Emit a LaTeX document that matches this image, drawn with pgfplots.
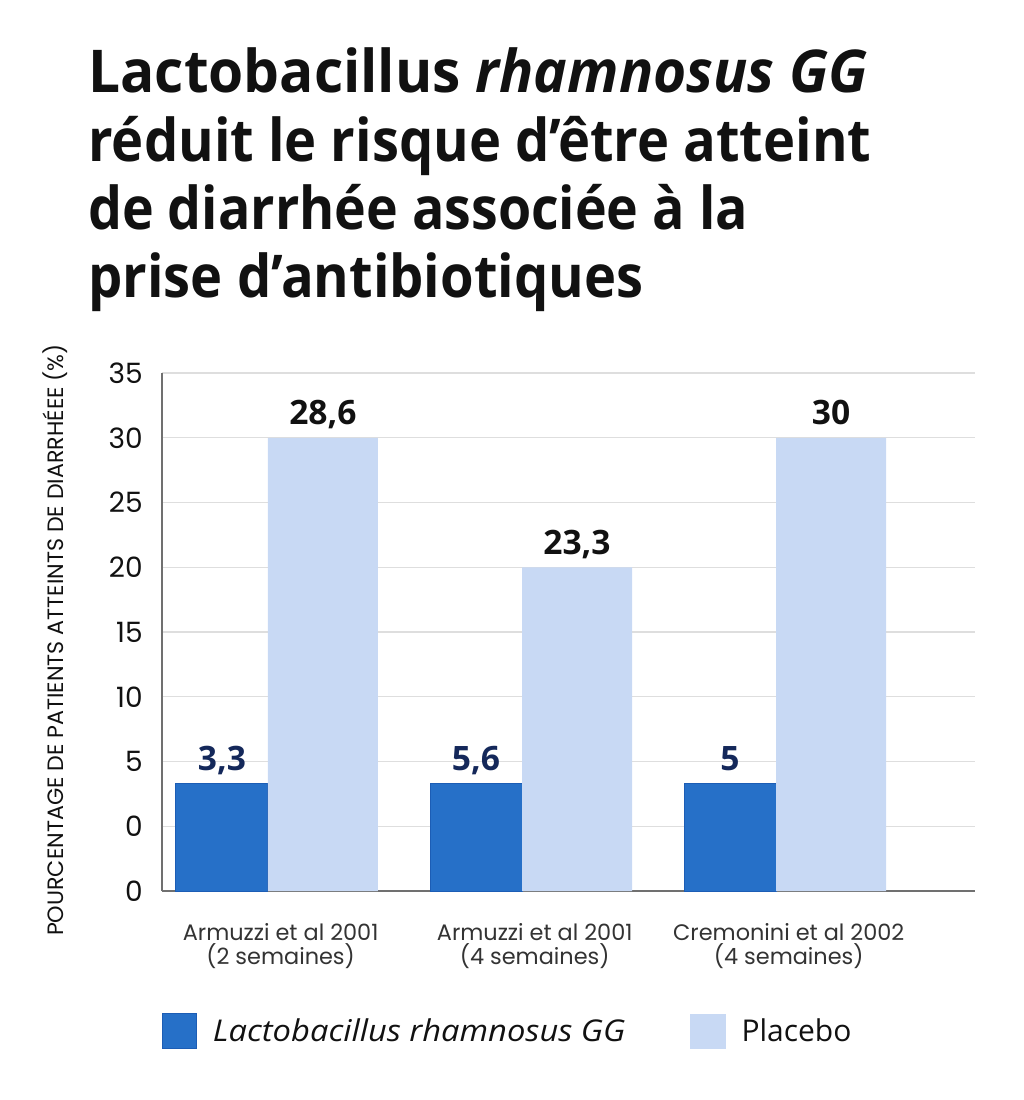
\documentclass[border=0pt]{standalone}
\usepackage{fontspec}
\setmainfont{Open Sans}
\newfontfamily\pop{Poppins}
\usepackage{graphicx}
\usepackage{pgfplots}
\pgfplotsset{compat=1.18}
\definecolor{lgg}{HTML}{2670C8}
\definecolor{lggd}{HTML}{1C5DB5}
\definecolor{plc}{HTML}{C8D9F4}
\definecolor{navy}{HTML}{14285A}
\definecolor{gridc}{HTML}{DEDEDE}
\definecolor{axc}{HTML}{707070}
\definecolor{ink}{HTML}{111111}
\begin{document}
\begin{tikzpicture}
\path[use as bounding box] (0,0) rectangle (512pt,-550pt);
\begin{scope}[every node/.style={anchor=base west, inner sep=0pt, text=ink, font=\fontsize{29.5}{34}\selectfont\bfseries}]
\node[xscale=0.963] at (44pt,-46pt) {Lactobacillus \textit{rhamnosus GG}};
\node[xscale=0.92] at (44pt,-80.5pt) {réduit le risque d’être atteint};
\node[xscale=0.91] at (44pt,-114.5pt) {de diarrhée associée à la};
\node[xscale=0.92] at (44pt,-148.5pt) {prise d’antibiotiques};
\end{scope}
\node[rotate=90, inner sep=0pt, text=ink, font=\pop\fontsize{11.1}{12}\selectfont] at (27.5pt,-320pt) {POURCENTAGE DE PATIENTS ATTEINTS DE DIARRHÉEE (\%)};
\begin{axis}[
  at={(81pt,-445.5pt)}, anchor=south west,
  width=406.5pt, height=259pt, scale only axis,
  xmin=-0.417, xmax=2.783, ymin=0, ymax=40,
  axis x line*=bottom, axis y line*=left,
  axis line style={axc, line width=0.8pt, -},
  ytick={0,5,...,40}, yticklabels={0,0,5,10,15,20,25,30,35},
  ymajorgrids, grid style={gridc, line width=0.6pt},
  major tick length=0pt,
  xtick={0.05,1.05,2.05},
  xticklabels={{Armuzzi et al 2001\\(2 semaines)},{Armuzzi et al 2001\\(4 semaines)},{Cremonini et al 2002\\(4 semaines)}},
  xticklabel style={align=center, font=\pop\fontsize{11.2}{12.2}\selectfont, text=black!80, inner sep=0pt, yshift=-16pt},
  yticklabel style={font=\pop\fontsize{14}{16}\selectfont, text=ink, inner sep=0pt, xshift=-9.5pt},
  y filter/.expression={y+5},
  legend columns=2, legend cell align=left,
  legend style={at={(0,-0.271)}, anchor=west, draw=none, fill=none, inner sep=0pt, outer sep=0pt,
    font=\fontsize{15}{18}\selectfont, text=ink, nodes={inner sep=0pt},
    /tikz/every odd column/.append style={column sep=8pt},
    /tikz/every even column/.append style={column sep=32pt}},
]
\addplot[ybar, bar width=0.362, bar shift=-0.181, fill=lgg, draw=lggd, line width=0.5pt,
  nodes near coords, point meta=explicit symbolic,
  nodes near coords style={anchor=base, inner sep=0pt, xshift=-23pt, yshift=6.5pt, text=navy, font=\fontsize{16.8}{18}\selectfont\bfseries},
  legend image code/.code={\fill[lgg, draw=lggd, line width=0.5pt] (0pt,-8.75pt) rectangle (17pt,8.75pt);}]
  table[meta=label] {
x y label
0 3.3 3,3
1 3.3 5,6
2 3.3 5
};
\addlegendentry{\scalebox{1.09}[1]{\textit{Lactobacillus rhamnosus GG}}}
\addplot[ybar, bar width=0.433, bar shift=0.2165, fill=plc, draw=none,
  nodes near coords, point meta=explicit symbolic,
  nodes near coords style={anchor=base, inner sep=0pt, xshift=27.5pt, yshift=6.5pt, text=ink, font=\fontsize{16.8}{18}\selectfont\bfseries},
  legend image code/.code={\fill[plc] (0pt,-8.75pt) rectangle (18pt,8.75pt);}]
  table[meta=label] {
x y label
0 30 28,6
1 20 23,3
2 30 30
};
\addlegendentry{Placebo}
\end{axis}
\end{tikzpicture}
\end{document}
